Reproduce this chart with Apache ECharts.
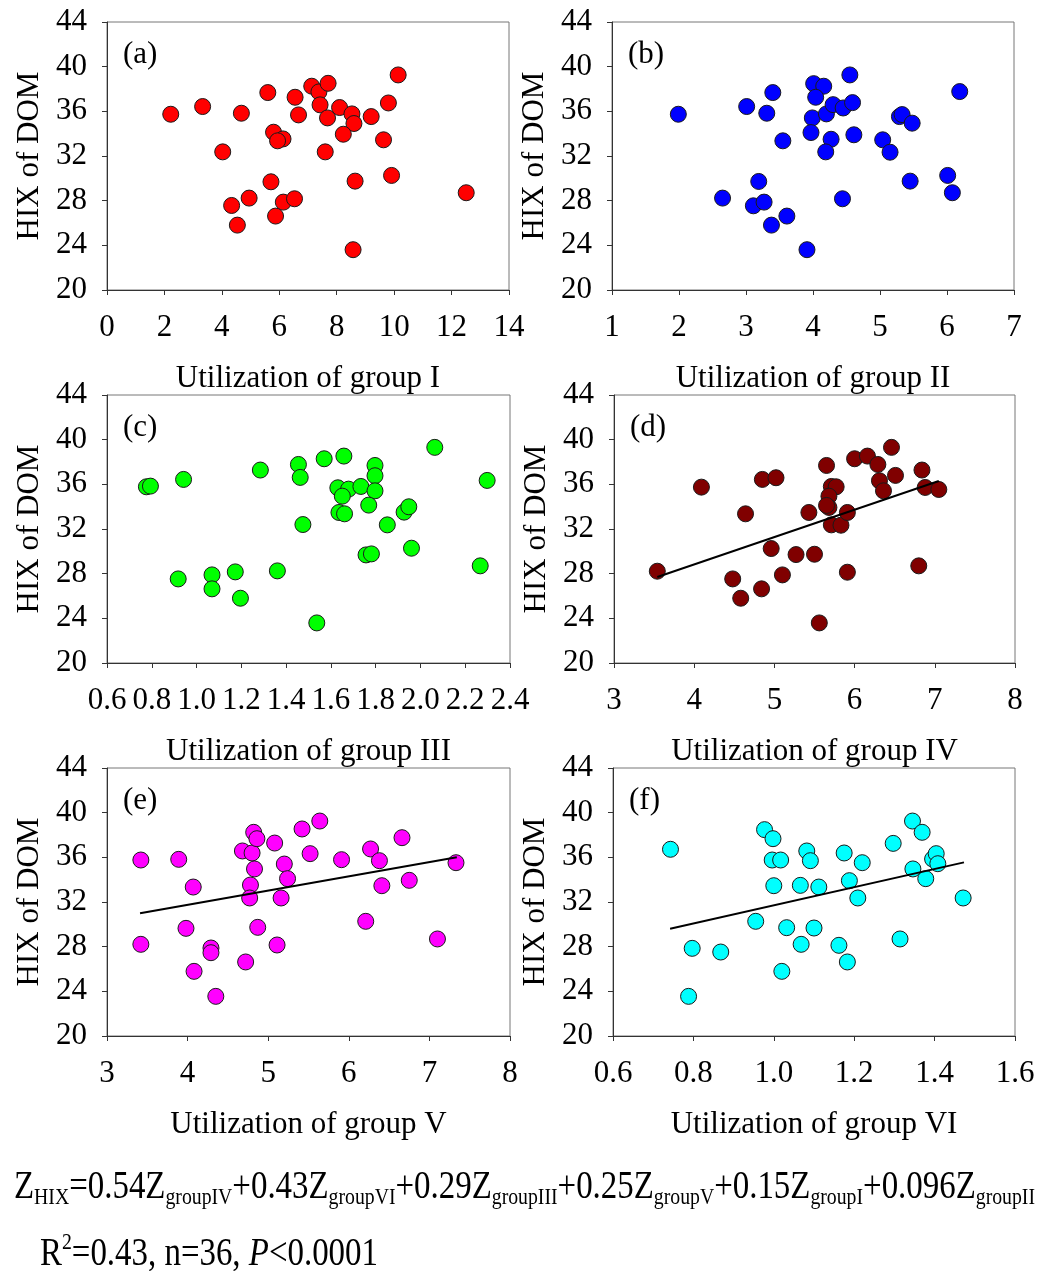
<!DOCTYPE html>
<html>
<head>
<meta charset="utf-8">
<title>HIX of DOM vs utilization of groups</title>
<script src="https://cdn.jsdelivr.net/npm/echarts@6/dist/echarts.min.js"></script>
<style>
    html, body { margin: 0; padding: 0; background: #fff; }
    #main { width: 1038px; height: 1271px; }
</style>
</head>
<body>
<div id="main"></div>
<script>
var FONT = '"Liberation Serif", "Times New Roman", serif';

// 散点数据 [utilization, HIX]
var groupI = [[2.22, 35.74], [3.33, 36.43], [4.68, 35.83], [4.03, 32.37], [5.60, 37.68], [6.55, 37.26],
    [6.67, 35.68], [5.80, 34.13], [6.13, 33.53], [5.94, 33.36], [7.13, 38.25], [7.38, 37.74],
    [7.70, 38.51], [7.42, 36.58], [7.68, 35.41], [8.10, 36.34], [8.53, 35.77], [8.60, 34.91],
    [8.23, 33.95], [7.60, 32.37], [9.20, 35.53], [9.80, 36.75], [9.63, 33.45], [10.14, 39.26],
    [9.91, 30.26], [8.64, 29.75], [5.71, 29.69], [4.95, 28.23], [4.34, 27.57], [4.54, 25.81],
    [6.14, 27.87], [6.53, 28.17], [5.87, 26.62], [8.57, 23.61], [12.51, 28.71]];

var groupII = [[1.99, 35.74], [3.01, 36.43], [3.31, 35.83], [3.40, 37.68], [3.55, 33.36], [4.01, 38.48],
    [4.16, 38.25], [4.04, 37.26], [3.99, 35.41], [3.97, 34.10], [4.20, 35.77], [4.30, 36.60],
    [4.45, 36.30], [4.59, 36.78], [4.55, 39.26], [4.27, 33.50], [4.61, 33.90], [4.19, 32.37],
    [5.04, 33.45], [5.15, 32.34], [5.29, 35.53], [5.33, 35.71], [5.48, 34.94], [5.45, 29.75],
    [6.01, 30.26], [6.08, 28.71], [6.19, 37.77], [2.65, 28.23], [3.19, 29.72], [3.11, 27.54],
    [3.27, 27.87], [3.38, 25.81], [3.61, 26.62], [4.44, 28.17], [3.91, 23.61]];

var groupIII = [[0.776, 35.78], [0.794, 35.84], [0.942, 36.44], [1.285, 37.28], [1.455, 37.78], [1.463, 36.62],
    [1.570, 38.29], [1.658, 38.53], [1.797, 37.69], [1.797, 36.77], [1.631, 35.69], [1.679, 35.57],
    [1.651, 34.94], [1.734, 35.81], [1.797, 35.42], [1.769, 34.14], [1.636, 33.48], [1.661, 33.36],
    [1.475, 32.40], [1.852, 32.37], [1.927, 33.51], [1.948, 33.99], [2.064, 39.31], [2.298, 36.35],
    [1.960, 30.28], [1.757, 29.68], [1.781, 29.77], [2.267, 28.70], [1.361, 28.25], [1.173, 28.16],
    [1.069, 27.89], [1.069, 26.64], [0.918, 27.53], [1.196, 25.80], [1.537, 23.59]];

var groupIV = [[3.54, 28.22], [4.09, 35.75], [4.64, 33.36], [4.85, 36.44], [5.02, 36.59], [4.48, 27.53],
    [4.58, 25.80], [4.84, 26.64], [4.96, 30.25], [5.10, 27.89], [5.27, 29.71], [5.43, 33.48],
    [5.50, 29.74], [5.56, 23.59], [5.65, 37.69], [5.71, 35.81], [5.77, 35.78], [5.68, 34.94],
    [5.68, 33.93], [5.65, 34.11], [5.71, 32.37], [5.83, 32.34], [5.91, 33.48], [5.91, 28.13],
    [6.00, 38.29], [6.16, 38.53], [6.29, 37.78], [6.31, 36.32], [6.36, 35.42], [6.46, 39.31],
    [6.51, 36.80], [6.84, 37.28], [6.88, 35.72], [7.05, 35.54], [6.80, 28.70]];

var groupV = [[3.42, 35.76], [3.42, 28.21], [3.89, 35.82], [4.07, 33.34], [3.98, 29.64], [4.08, 25.79],
    [4.29, 27.88], [4.29, 27.46], [4.35, 23.55], [4.72, 26.63], [4.68, 36.57], [4.80, 36.39],
    [4.82, 38.24], [4.86, 37.67], [4.83, 34.96], [4.78, 33.52], [4.77, 32.36], [4.87, 29.73],
    [5.08, 37.28], [5.20, 35.40], [5.24, 34.09], [5.16, 32.36], [5.11, 28.15], [5.42, 38.54],
    [5.64, 39.25], [5.52, 36.33], [5.91, 35.79], [6.27, 36.75], [6.38, 35.70], [6.41, 33.46],
    [6.21, 30.27], [6.66, 37.76], [6.75, 33.94], [7.10, 28.69], [7.33, 35.52]];

var groupVI = [[0.743, 36.72], [0.797, 27.85], [0.788, 23.55], [0.868, 27.52], [0.955, 30.27], [0.977, 38.48],
    [0.998, 37.67], [0.996, 35.76], [1.017, 35.76], [1.000, 33.46], [1.020, 25.79], [1.032, 29.70],
    [1.068, 28.21], [1.066, 33.49], [1.082, 36.57], [1.091, 35.70], [1.112, 33.34], [1.100, 29.67],
    [1.162, 28.12], [1.183, 26.63], [1.175, 36.39], [1.188, 33.91], [1.220, 35.52], [1.209, 32.36],
    [1.297, 37.25], [1.314, 28.69], [1.345, 39.25], [1.369, 38.24], [1.346, 34.96], [1.378, 34.09],
    [1.395, 35.85], [1.404, 36.33], [1.408, 35.43], [1.471, 32.36]];

// 回归线两端点
var trendIV = [[3.54, 27.7], [7.05, 36.3]];
var trendV = [[3.41, 31.0], [7.34, 36.0]];
var trendVI = [[0.742, 29.6], [1.473, 35.55]];

// 坐标轴
var xMin = [0, 1, 0.6, 3, 3, 0.6];
var xMax = [14, 7, 2.4, 8, 8, 1.6];
var xStep = [2, 1, 0.2, 1, 1, 0.2];
var yMin = 20, yMax = 44, yStep = 4;

var panelLabels = ['(a)', '(b)', '(c)', '(d)', '(e)', '(f)'];
var xNames = ['Utilization of group I', 'Utilization of group II', 'Utilization of group III',
    'Utilization of group IV', 'Utilization of group V', 'Utilization of group VI'];

// 回归方程
var coefs = ['0.54', '0.43', '0.29', '0.25', '0.15', '0.096'];
var coefGroups = ['IV', 'VI', 'III', 'V', 'I', 'II'];
var statR2 = '0.43', statN = '36', statP = '0.0001';

var allData = [groupI, groupII, groupIII, groupIV, groupV, groupVI];
var trends = [null, null, null, trendIV, trendV, trendVI];
var colors = ['#ff0000', '#0000ff', '#00ff00', '#800000', '#ff00ff', '#00ffff'];

var grids = [
    { left: 107, top: 22, width: 402, height: 268 },
    { left: 612, top: 22, width: 402, height: 268 },
    { left: 107, top: 395, width: 403, height: 268 },
    { left: 614, top: 395, width: 401, height: 268 },
    { left: 107, top: 768, width: 403, height: 268 },
    { left: 613, top: 768, width: 402, height: 268 }
];

var option = {
    backgroundColor: '#fff',
    animation: false,
    title: [],
    grid: [],
    xAxis: [],
    yAxis: [],
    series: [],
    graphic: []
};

for (var i = 0; i < 6; i++) {
    var g = grids[i];
    option.grid.push({
        left: g.left, top: g.top, width: g.width, height: g.height,
        show: true, borderColor: '#777', borderWidth: 1, backgroundColor: 'transparent'
    });

    option.title.push({
        text: panelLabels[i],
        left: g.left + 16,
        top: g.top + 17,
        padding: 0,
        textStyle: { fontFamily: FONT, fontSize: 31, fontWeight: 'normal', color: '#000' }
    });

    (function (step) {
        option.xAxis.push({
            type: 'value',
            gridIndex: i,
            min: xMin[i], max: xMax[i], interval: step,
            name: xNames[i],
            nameLocation: 'middle',
            nameGap: 73,
            nameTextStyle: { fontFamily: FONT, fontSize: 31, color: '#000' },
            axisLine: { onZero: false, lineStyle: { color: '#333', width: 1 } },
            axisTick: { show: true, length: 5, lineStyle: { color: '#333' } },
            splitLine: { show: false },
            axisLabel: {
                margin: 22, fontFamily: FONT, fontSize: 31, color: '#000',
                formatter: function (v) { return step < 1 ? v.toFixed(1) : String(v); }
            }
        });
    })(xStep[i]);

    option.yAxis.push({
        type: 'value',
        gridIndex: i,
        min: yMin, max: yMax, interval: yStep,
        name: 'HIX of DOM',
        nameLocation: 'middle',
        nameGap: 62,
        nameTextStyle: { fontFamily: FONT, fontSize: 31, color: '#000' },
        axisLine: { show: true, lineStyle: { color: '#333', width: 1 } },
        axisTick: { show: true, length: 5, lineStyle: { color: '#333' } },
        splitLine: { show: false },
        axisLabel: { margin: 20, fontFamily: FONT, fontSize: 31, color: '#000' }
    });

    option.series.push({
        type: 'scatter',
        xAxisIndex: i, yAxisIndex: i,
        data: allData[i],
        symbol: 'circle',
        symbolSize: 16,
        itemStyle: { color: colors[i], borderColor: '#1a1a1a', borderWidth: 1, opacity: 1 },
        emphasis: { disabled: true },
        z: 2
    });

    if (trends[i]) {
        option.series.push({
            type: 'line',
            xAxisIndex: i, yAxisIndex: i,
            data: trends[i],
            symbol: 'none',
            lineStyle: { color: '#000', width: 2 },
            silent: true,
            z: 3
        });
    }
}

// 方程文字
var eqText = '{m|Z}{s|HIX}{m|=}';
for (var k = 0; k < coefs.length; k++) {
    eqText += '{m|' + (k > 0 ? '+' : '') + coefs[k] + 'Z}{s|group' + coefGroups[k] + '}';
}
var statText = '{m|R}{p|2}{m|=' + statR2 + ', n=' + statN + ', }{i|P}{m|<' + statP + '}';

var MAIN = 40, SUB = 24;
var rich = {
    m: { fontFamily: FONT, fontSize: MAIN, lineHeight: 46, fill: '#000' },
    s: { fontFamily: FONT, fontSize: SUB, lineHeight: 24, verticalAlign: 'bottom', fill: '#000' },
    p: { fontFamily: FONT, fontSize: SUB, lineHeight: 24, verticalAlign: 'top', fill: '#000' },
    i: { fontFamily: FONT, fontSize: MAIN, lineHeight: 46, fontStyle: 'italic', fill: '#000' }
};

// 按参考图宽度压缩方程
var ctx = document.createElement('canvas').getContext('2d');
var eqWidth = 0;
ctx.font = MAIN + 'px ' + FONT;
eqWidth += ctx.measureText('Z=' + coefs.map(function (c, n) { return (n > 0 ? '+' : '') + c + 'Z'; }).join('')).width;
ctx.font = SUB + 'px ' + FONT;
eqWidth += ctx.measureText('HIX' + coefGroups.map(function (s) { return 'group' + s; }).join('')).width;
var sx = 1021 / eqWidth;

option.graphic.push({
    type: 'text', x: 14, y: 1164, scaleX: sx, scaleY: 1,
    style: { text: eqText, rich: rich, align: 'left', verticalAlign: 'top' }
});
option.graphic.push({
    type: 'text', x: 40, y: 1231, scaleX: sx, scaleY: 1,
    style: { text: statText, rich: rich, align: 'left', verticalAlign: 'top' }
});

var oChart = echarts.init(document.getElementById('main'), null, { renderer: 'canvas' });
oChart.setOption(option);
</script>
</body>
</html>
